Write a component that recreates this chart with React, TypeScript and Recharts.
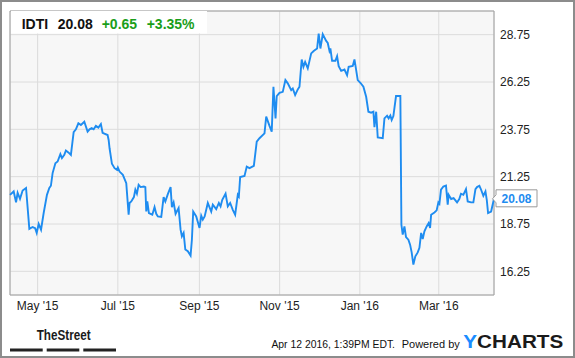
import React from "react";
import { LineChart, Line, XAxis, YAxis, CartesianGrid, ReferenceArea } from "recharts";

const FONT = '"Liberation Sans", Arial, Helvetica, sans-serif';
const LINE_COLOR = "#1e8cf0";
const GREEN = "#1a9e1a";

const TICKER = "IDTI";
const LAST_PRICE = "20.08";
const CHANGE = "+0.65";
const CHANGE_PCT = "+3.35%";
const STAMP = "Apr 12 2016, 1:39PM EDT.";

// calendar days counted from Apr 10 2015
const DAYS = [
  0, 2.8, 4.6, 5.8, 7.6, 9.6, 12.2, 14.7, 17.2, 19.1, 20.3, 21.8, 23.6, 25.6, 28.1, 29.9,
  31.1, 32.4, 34.5, 36.2, 38.3, 39.5, 41.3, 42.5, 44.6, 46.3, 48.4, 50.1, 52.0, 53.9, 56.5,
  59.0, 60.5, 62.1, 63.6, 65.3, 67.2, 69.1, 70.4, 74.2, 75.0, 75.7, 77.5, 79.5, 81.3, 82.0,
  83.3, 85.8, 88.4, 90.2, 90.9, 92.2, 94.2, 95.3, 96.5, 97.8, 99.3, 101.8, 102.9, 103.6,
  104.4, 105.6, 108.2, 109.9, 111.2, 112.4, 115.0, 116.8, 118.1, 120.0, 122.1, 123.1, 124.4,
  125.9, 128.2, 129.7, 130.7, 132.0, 133.3, 135.2, 137.3, 138.3, 139.3, 141.6, 144.1, 145.4,
  146.6, 148.0, 150.4, 153.0, 154.2, 156.8, 158.8, 160.1, 161.4, 163.9, 165.6, 167.4, 169.4,
  171.2, 173.2, 174.0, 175.0, 178.3, 180.0, 182.1, 185.4, 187.6, 189.7, 193.5, 194.8, 197.3,
  199.0, 200.3, 201.9, 202.8, 204.9, 207.4, 209.4, 211.2, 213.8, 215.0, 216.8, 218.8, 220.1,
  221.8, 223.1, 224.4, 226.4, 229.0, 230.9, 233.5, 234.7, 236.0, 237.8, 240.4, 241.6, 242.9,
  243.6, 244.9, 247.4, 248.7, 249.9, 251.8, 254.3, 256.3, 257.5, 260.6, 261.9, 262.6, 264.4,
  266.4, 268.7, 270.8, 272.5, 274.6, 276.3, 277.1, 278.4, 279.6, 283.4, 284.7, 286.7, 287.9,
  289.2, 290.2, 291.5, 293.5, 296.8, 297.6, 298.6, 299.9, 301.1, 302.9, 304.2, 305.4, 306.7,
  308.2, 310.0, 311.3, 312.6, 313.8, 315.1, 316.8, 318.3, 319.4, 320.2, 322.7, 324.4, 325.7,
  326.5, 327.7, 329.5, 331.5, 332.8, 333.5, 335.4, 337.3, 339.9, 341.6, 342.9, 344.7, 346.7,
  348.0, 350.6, 352.3, 353.9, 355.1, 356.9, 358.2, 359.9, 361.5, 362.5, 363.5, 365.8, 368,
];

const PRICES = [
  20.29, 20.47, 19.89, 20.4, 20.08, 20.52, 20.65, 18.49, 18.59, 18.53, 18.28, 18.75, 18.45,
  19.33, 20.29, 20.65, 20.77, 21.44, 21.96, 22.05, 22.44, 22.23, 22.4, 22.63, 22.52, 22.4,
  23.6, 23.75, 24.07, 23.98, 24.15, 23.63, 23.75, 23.81, 23.75, 23.93, 23.84, 24.03, 23.57,
  23.45, 23.19, 22.75, 21.93, 21.7, 21.61, 21.73, 21.52, 21.35, 20.91, 19.24, 19.86, 19.94,
  20.17, 20.56, 20.35, 20.82, 20.7, 20.73, 20.7, 19.41, 19.94, 19.33, 19.24, 19.64, 19.29,
  19.15, 19.12, 20.17, 19.94, 20.33, 20.7, 19.64, 19.89, 19.29, 19.59, 18.45, 18.1, 18.28,
  17.4, 17.31, 17.08, 17.92, 19.41, 19.15, 18.54, 19.19, 18.98, 19.15, 19.86, 19.41, 19.77,
  19.54, 19.86, 19.68, 20.03, 20.35, 19.68, 19.86, 19.5, 19.24, 20.29, 20.2, 21.23, 21.29,
  21.78, 21.7, 21.82, 23.1, 23.28, 23.54, 24.42, 23.93, 23.63, 26.0, 24.33, 25.51, 25.68,
  25.73, 26.35, 26.18, 25.82, 25.91, 25.56, 25.86, 26.0, 27.44, 27.05, 27.31, 26.97, 27.76,
  27.89, 28.02, 28.81, 28.02, 28.77, 28.42, 28.31, 27.89, 28.02, 27.37, 27.37, 27.61, 27.09,
  26.84, 26.91, 26.61, 27.05, 27.1, 27.44, 27.14, 26.35, 26.21, 26.0, 25.47, 24.68, 24.63,
  24.68, 23.86, 24.68, 23.32, 23.28, 24.33, 24.47, 24.33, 24.48, 24.24, 24.45, 25.51, 25.51,
  18.71, 18.19, 18.62, 18.06, 17.92, 17.66, 17.25, 16.61, 17.04, 17.25, 17.49, 18.28, 17.96,
  18.36, 18.62, 18.8, 18.54, 19.24, 19.36, 19.47, 19.89, 19.82, 20.56, 20.73, 20.78, 19.77,
  20.29, 20.07, 20.12, 19.89, 20.07, 20.35, 20.29, 20.59, 19.94, 19.89, 19.89, 20.59, 20.7,
  20.77, 20.56, 20.24, 20.47, 20.03, 19.33, 19.41, 20.08,
];

const X_TICKS = [21, 82, 144, 205, 266, 326];
const X_LABELS = ["May '15", "Jul '15", "Sep '15", "Nov '15", "Jan '16", "Mar '16"];
const Y_TICKS = [16.25, 18.75, 21.25, 23.75, 26.25, 28.75];

const data = DAYS.map((day, i) => ({ day, price: PRICES[i] }));

function renderCallout(props: any) {
  const { x, y, index } = props;
  if (index !== PRICES.length - 1) return null;
  const l = x + 2;
  const path = `M${x - 1.5},${y} L${l},${y - 4} L${l},${y - 9} L${x + 43},${y - 9} L${x + 43},${y + 8} L${l},${y + 8} L${l},${y + 4} Z`;
  return (
    <g key="callout">
      <path d={path} fill="#fff" stroke="#9a9a9a" strokeWidth={1} />
      <text x={x + 7.5} y={y + 4.5} fontSize={12} fontWeight="bold" fontFamily={FONT} fill={LINE_COLOR}>
        {LAST_PRICE}
      </text>
    </g>
  );
}

const tickStyle = { fontSize: 12, fill: "#222", fontFamily: FONT };

export default function App() {
  return (
    <div style={{ position: "absolute", left: 0, top: 0, width: 575, height: 358, background: "#fff" }}>
      <LineChart width={575} height={358} data={data} margin={{ top: 11, right: 0, bottom: 0, left: 10 }}>
        <CartesianGrid stroke="#dcdcdc" fill="#f7f7f7" />
        <XAxis
          type="number"
          dataKey="day"
          domain={[0, 368]}
          ticks={X_TICKS}
          interval={0}
          tickFormatter={(v: number) => X_LABELS[X_TICKS.indexOf(v)]}
          axisLine={false}
          tickSize={0}
          tickMargin={6}
          height={63}
          tick={tickStyle}
        />
        <YAxis
          orientation="right"
          domain={[15, 30]}
          ticks={Y_TICKS}
          interval={0}
          tickFormatter={(v: number) => v.toFixed(2)}
          axisLine={false}
          tickSize={0}
          tickMargin={6}
          width={81}
          tick={tickStyle}
        />
        <ReferenceArea x1={0} x2={368} y1={15} y2={30} fill="none" stroke="#a0a0a0" ifOverflow="visible" />
        <Line
          type="linear"
          dataKey="price"
          stroke={LINE_COLOR}
          strokeWidth={1.9}
          dot={false}
          isAnimationActive={false}
          label={renderCallout}
        />
      </LineChart>

      <svg width={575} height={358} style={{ position: "absolute", left: 0, top: 0, pointerEvents: "none" }}>
        {/* quote header */}
        <rect x={11} y={11} width={196} height={22.5} fill="#fff" />
        <g fontFamily={FONT} fontSize={14} fontWeight="bold">
          <text x={21.7} y={28.7} fill="#111">{TICKER}</text>
          <text x={57.7} y={28.7} fill="#111">{LAST_PRICE}</text>
          <text x={101.7} y={28.7} fill={GREEN}>{CHANGE}</text>
          <text x={146.7} y={28.7} fill={GREEN}>{CHANGE_PCT}</text>
        </g>

        {/* footer */}
        <text
          x={36.7}
          y={340}
          fontFamily={'"Liberation Sans Narrow", "Arial Narrow", ' + FONT}
          fontSize={14.5}
          fontWeight="bold"
          fill="#1a1a1a"
          textLength={54}
          lengthAdjust="spacingAndGlyphs"
        >
          TheStreet
        </text>
        <rect x={10} y={348.5} width={32.7} height={3} fill="#222" />
        <rect x={46.7} y={348.5} width={32.6} height={3} fill="#222" />
        <rect x={83.3} y={348.5} width={32.7} height={3} fill="#222" />

        <text x={271.4} y={348.3} fontFamily={FONT} fontSize={10.4} fill="#111">
          {STAMP}
        </text>
        <text x={401.7} y={348.3} fontFamily={FONT} fontSize={11} fill="#111">
          Powered by
        </text>
        <text
          x={463.3}
          y={348.3}
          fontFamily={FONT}
          fontSize={18.5}
          fontWeight="bold"
          fill="#1a1a1a"
          textLength={100}
          lengthAdjust="spacingAndGlyphs"
        >
          <tspan fill="#1a8cff">Y</tspan>CHARTS
        </text>
      </svg>

      <div
        style={{
          position: "absolute",
          left: 0,
          top: 0,
          width: 575,
          height: 358,
          boxSizing: "border-box",
          border: "2px solid #8c8c8c",
          pointerEvents: "none",
        }}
      />
    </div>
  );
}
